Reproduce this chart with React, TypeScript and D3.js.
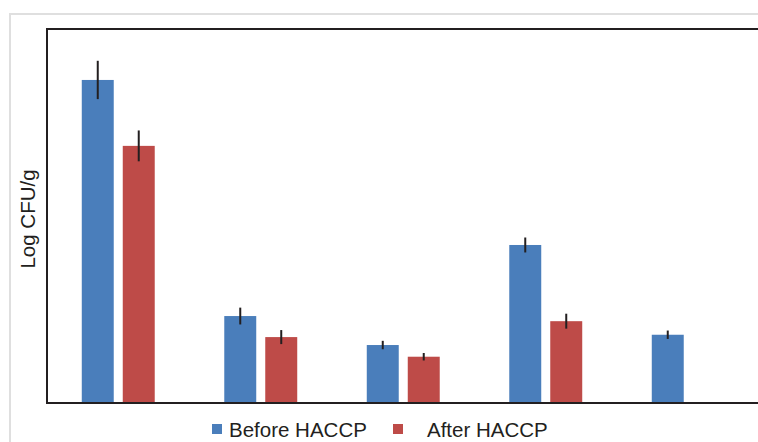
import React from 'react';
import { useRef, useEffect } from 'react';
import * as d3 from 'd3';

// data (Log CFU/g)
const groups = ['G1', 'G2', 'G3', 'G4', 'G5'];
const series = ['Before HACCP', 'After HACCP'];
const beforeValues = [6.91, 1.86, 1.24, 3.38, 1.46];
const afterValues = [5.5, 1.41, 0.99, 1.75, 0];
const beforeErrors = [0.41, 0.18, 0.09, 0.16, 0.09];
const afterErrors = [0.33, 0.15, 0.08, 0.16, 0];
const colors = ['#4a7ebb', '#be4b48'];

export default function App() {
  const svgRef = useRef<SVGSVGElement>(null);

  useEffect(() => {
    const w = 758;
    const h = 442;
    const svg = d3.select(svgRef.current).attr('width', w).attr('height', h);
    svg.selectAll('*').remove();

    const left = 47;
    const top = 29;
    const bottom = 403;
    const right = 759.5;

    // outer light frame
    svg
      .append('rect')
      .attr('x', 10)
      .attr('y', 14)
      .attr('width', 800)
      .attr('height', 500)
      .attr('fill', 'white')
      .attr('stroke', '#dfdfdf')
      .attr('stroke-width', 2);

    const x0 = d3
      .scaleBand()
      .domain(groups)
      .range([left, right])
      .paddingInner(0.488)
      .paddingOuter(0.244);
    const x1 = d3
      .scaleBand()
      .domain(series)
      .range([0, x0.bandwidth()])
      .paddingInner(0.22);
    const y = d3.scaleLinear().domain([0, 8]).range([bottom, top]);

    const rows = groups.map((g, i) => [
      { g, s: series[0], v: beforeValues[i], e: beforeErrors[i], c: colors[0] },
      { g, s: series[1], v: afterValues[i], e: afterErrors[i], c: colors[1] },
    ]).flat().filter((d) => d.v > 0);

    // bars
    svg
      .selectAll('rect.bar')
      .data(rows)
      .join('rect')
      .attr('class', 'bar')
      .attr('x', (d) => x0(d.g)! + x1(d.s)!)
      .attr('y', (d) => y(d.v))
      .attr('width', x1.bandwidth())
      .attr('height', (d) => y(0) - y(d.v))
      .attr('fill', (d) => d.c);

    // error bars
    svg
      .selectAll('line.err')
      .data(rows)
      .join('line')
      .attr('class', 'err')
      .attr('x1', (d) => x0(d.g)! + x1(d.s)! + x1.bandwidth() / 2)
      .attr('x2', (d) => x0(d.g)! + x1(d.s)! + x1.bandwidth() / 2)
      .attr('y1', (d) => y(d.v + d.e))
      .attr('y2', (d) => y(d.v - d.e))
      .attr('stroke', '#231f20')
      .attr('stroke-width', 2);

    // plot frame (left, top, bottom)
    svg
      .append('path')
      .attr('d', `M${right},${top}H${left}V${bottom}H${right}`)
      .attr('fill', 'none')
      .attr('stroke', '#231f20')
      .attr('stroke-width', 2);

    // y label
    svg
      .append('text')
      .attr('transform', `translate(35, ${(top + bottom) / 2 + 3}) rotate(-90)`)
      .attr('text-anchor', 'middle')
      .style('font-family', 'Liberation Sans, Arial, sans-serif')
      .style('font-size', '20.5px')
      .attr('fill', '#231f20')
      .text('Log CFU/g');

    // legend
    const legendX = [212, 393];
    const textX = [229, 427];
    series.forEach((s, i) => {
      svg
        .append('rect')
        .attr('x', legendX[i])
        .attr('y', 424)
        .attr('width', 10)
        .attr('height', 10)
        .attr('fill', colors[i]);
      svg
        .append('text')
        .attr('x', textX[i])
        .attr('y', 437)
        .style('font-family', 'Liberation Sans, Arial, sans-serif')
        .style('font-size', '20.5px')
        .attr('fill', '#231f20')
        .text(s);
    });
  }, []);

  return (
    <div style={{ position: 'absolute', left: 0, top: 0 }}>
      <svg ref={svgRef} style={{ display: 'block' }}></svg>
    </div>
  );
}
